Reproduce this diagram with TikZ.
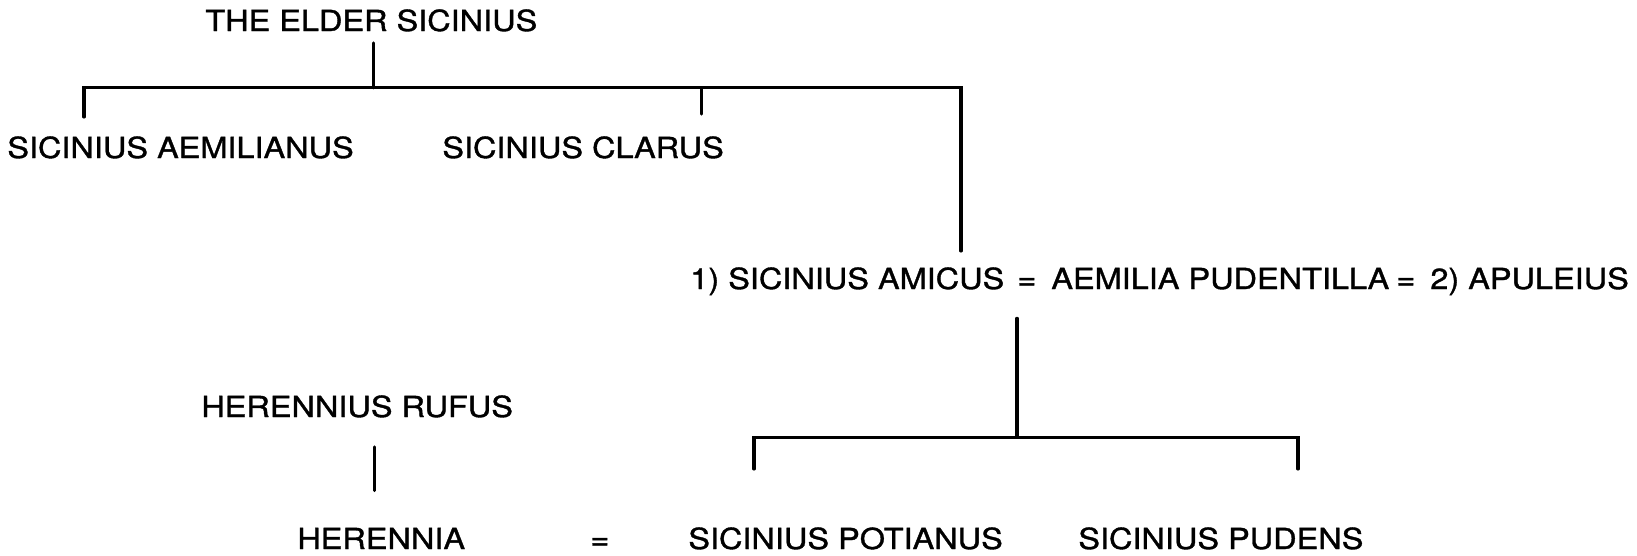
\documentclass[tikz,border=0pt]{standalone}
\usepackage{fontspec}
\setmainfont[FakeStretch=1.12,FakeBold=1.2]{TeX Gyre Heros}
\usepackage{tikz}
\usetikzlibrary{calc}

\begin{document}
\begin{tikzpicture}[
    x=0.02cm, y=-0.02cm,
    person/.style={inner sep=0pt, anchor=base west, font=\fontsize{16.5}{19}\selectfont},
    line/.style={line width=1.8pt, line cap=round}
]
    \useasboundingbox (0,0) rectangle (1637,555);

    % First generation
    \node[person] (elder) at (205,31) {THE ELDER SICINIUS};

    % Sons
    \node[person] (aemil) at (7,158) {SICINIUS AEMILIANUS};
    \node[person] (clarus) at (442,158) {SICINIUS CLARUS};

    % Marriages
    \node[person] (amicus) at (690,289) {1) SICINIUS AMICUS};
    \node[person] (eqA) at (1017,289) {=};
    \node[person] (pudentilla) at (1051,289) {AEMILIA PUDENTILLA};
    \node[person] (eqB) at (1396,289) {=};
    \node[person] (apuleius) at (1430,289) {2) APULEIUS};

    % Herennius line
    \node[person] (rufus) at (201,417) {HERENNIUS RUFUS};
    \node[person] (herennia) at (297,549) {HERENNIA};
    \node[person] (eqC) at (590,549) {=};

    % Children
    \node[person] (potianus) at (688,549) {SICINIUS POTIANUS};
    \node[person] (pudens) at (1078,549) {SICINIUS PUDENS};

    % Bar below the elder
    \coordinate (topbar) at ($(elder.south)+(2,56)$);
    \coordinate (aemilT) at ($(aemil.north west)+(77,-19)$);
    \coordinate (clarusT) at ($(clarus.north east)+(-23,-22)$);
    \coordinate (amicusT) at ($(amicus.north west)+(271,-16)$);
    \draw[line] ($(elder.south)+(2,11)$) -- (topbar);
    \draw[line] (aemilT) |- (topbar) -| (amicusT);
    \draw[line] (clarusT) -- (clarusT |- topbar);

    % Bar above the children
    \coordinate (kidbar) at ($(eqA.south west)+(0,148)$);
    \coordinate (potianusT) at ($(potianus.north west)+(66,-58)$);
    \coordinate (pudensT) at ($(pudens.north west)+(220,-58)$);
    \draw[line] ($(eqA.south west)+(0,29)$) -- (kidbar);
    \draw[line] (potianusT) |- (kidbar) -| (pudensT);

    % Rufus to Herennia
    \coordinate (rufusT) at ($(rufus.south)+(17,29)$);
    \draw[line] (rufusT) -- ($(rufusT |- herennia.north)+(0,-37)$);
\end{tikzpicture}
\end{document}
